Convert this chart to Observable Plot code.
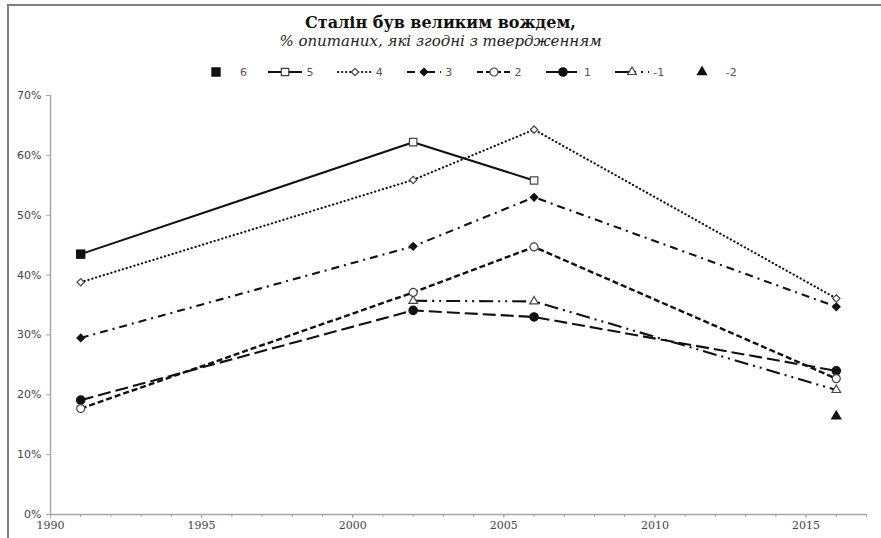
<!DOCTYPE html>
<html>
<head>
<meta charset="utf-8">
<script src="https://cdn.jsdelivr.net/npm/d3@7"></script>
<script src="https://cdn.jsdelivr.net/npm/@observablehq/plot@0.6"></script>
<style>
  html, body { margin: 0; padding: 0; background: #fff; }
  #wrap { position: relative; width: 881px; height: 538px; overflow: hidden; background: #fff; }
  #frame { position: absolute; left: 7px; top: 4px; width: 874px; height: 540px;
           border-top: 2px solid #7f7f7f; border-left: 2px solid #7f7f7f; box-sizing: border-box; }
  #title { position: absolute; left: 0; width: 881px; top: 15px; text-align: center;
           font: bold 16px "DejaVu Serif", serif; line-height: 1; color: #111; }
  #subtitle { position: absolute; left: 0; width: 881px; top: 34px; text-align: center;
           font: italic 15px "DejaVu Serif", serif; line-height: 1; color: #222; }
  #legend { position: absolute; top: 64px; left: 198px; display: flex; }
  .item { width: 69.4px; display: flex; align-items: center; height: 16px; }
  .item span { font: 11px "DejaVu Sans", sans-serif; color: #555; margin-left: 3px; }
  #chart { position: absolute; left: 0; top: 85px; }
</style>
</head>
<body>
<div id="wrap">
  <div id="frame"></div>
  <div id="title">Сталін був великим вождем,</div>
  <div id="subtitle">% опитаних, які згодні з твердженням</div>
  <div id="legend"></div>
  <div id="chart"></div>
</div>
<script>
// ---- data ----
const surveyYears = [1991, 2002, 2006, 2016];
const seriesNames = ["6", "5", "4", "3", "2", "1", "-1", "-2"];
const s6  = [43.5, null, null, null];
const s5  = [43.5, 62.2, 55.8, null];
const s4  = [38.8, 55.9, 64.3, 36.1];
const s3  = [29.5, 44.8, 53.0, 34.7];
const s2  = [17.7, 37.1, 44.7, 22.7];
const s1  = [19.1, 34.1, 33.0, 24.0];
const sm1 = [null, 35.7, 35.6, 20.8];
const sm2 = [null, null, null, 16.4];
const yTicks = [0, 10, 20, 30, 40, 50, 60, 70];
const xLabelYears = [1990, 1995, 2000, 2005, 2010, 2015];

const seriesValues = [s6, s5, s4, s3, s2, s1, sm1, sm2];

// ---- styles ----
const styles = {
  "6":  {dash: null, symbol: "square", fill: "#111", r: 4.6, line: false},
  "5":  {dash: null, symbol: "square", fill: "#fff", r: 4.2, line: true, cap: "butt"},
  "4":  {dash: "0.3,3.7", symbol: "diamond2", fill: "#fff", r: 3.3, line: true, cap: "round"},
  "3":  {dash: "8,5,2,5", symbol: "diamond2", fill: "#111", r: 3.4, line: true, cap: "butt"},
  "2":  {dash: "6,3", symbol: "circle", fill: "#fff", r: 4, line: true, cap: "butt"},
  "1":  {dash: "13,5", symbol: "circle", fill: "#111", r: 4.2, line: true, cap: "butt"},
  "-1": {dash: "14,5,2,5,2,5", symbol: "triangle", fill: "#fff", r: 3.2, line: true, cap: "butt"},
  "-2": {dash: null, symbol: "triangle", fill: "#111", r: 3.4, line: false}
};

const rows = [];
seriesNames.forEach((s, i) => {
  surveyYears.forEach((yr, j) => {
    const v = seriesValues[i][j];
    if (v != null) rows.push({series: s, year: yr, value: v});
  });
});

const lineMarks = [];
const dotMarks = [];
seriesNames.forEach(s => {
  const st = styles[s];
  const d = rows.filter(r => r.series === s);
  if (st.line) {
    lineMarks.push(Plot.line(d, {
      x: "year", y: "value", stroke: "#111", strokeWidth: s === "2" ? 2.4 : 2.1,
      strokeDasharray: st.dash, strokeLinecap: st.cap
    }));
  }
  dotMarks.push(Plot.dot(d, {
    x: "year", y: "value", symbol: () => st.symbol, r: st.r,
    fill: st.fill, stroke: st.fill === "#fff" ? "#444" : "#111", strokeWidth: 1.2
  }));
});
dotMarks.reverse();

const chart = Plot.plot({
  width: 881,
  height: 453,
  marginLeft: 50,
  marginRight: 15,
  marginTop: 10,
  marginBottom: 24,
  style: {fontFamily: "DejaVu Sans, sans-serif", fontSize: "11px", background: "transparent"},
  x: {domain: [1990, 2017]},
  y: {domain: [0, 70]},
  symbol: {type: "identity"},
  marks: [
    Plot.ruleY([0], {stroke: "#a6a6a6", strokeWidth: 1.5}),
    Plot.ruleX([1990], {stroke: "#a6a6a6", strokeWidth: 1.5}),
    Plot.axisY({ticks: yTicks, tickSize: 4, tickPadding: 5, label: null, tickFormat: d => d + "%",
                stroke: "#a6a6a6", fill: "#444", fontSize: 11}),
    Plot.axisX({ticks: d3.range(1990, 2018), tickSize: 3, label: null, tickFormat: () => "",
                stroke: "#a6a6a6"}),
    Plot.axisX({ticks: xLabelYears, tickSize: 4, tickPadding: 3, label: null,
                tickFormat: d => String(d), stroke: "#a6a6a6", fill: "#444",
                fontFamily: "DejaVu Serif, serif", fontSize: 11}),
    ...lineMarks,
    ...dotMarks
  ]
});
document.getElementById("chart").appendChild(chart);

// ---- legend ----
const legend = d3.select("#legend");
const symMap = {square: d3.symbolSquare, diamond2: d3.symbolDiamond2, circle: d3.symbolCircle, triangle: d3.symbolTriangle};
seriesNames.forEach(s => {
  const st = styles[s];
  const item = legend.append("div").attr("class", "item");
  const svg = item.append("svg").attr("width", 36).attr("height", 16);
  if (st.line) {
    svg.append("line").attr("x1", 1).attr("x2", 35).attr("y1", 8).attr("y2", 8)
      .attr("stroke", "#111").attr("stroke-width", 2.1)
      .attr("stroke-dasharray", st.dash).attr("stroke-linecap", st.cap);
  }
  svg.append("path").attr("transform", "translate(18,8)")
    .attr("d", d3.symbol(symMap[st.symbol], Math.PI * st.r * st.r)())
    .attr("fill", st.fill).attr("stroke", st.fill === "#fff" ? "#444" : "#111").attr("stroke-width", 1.2);
  item.append("span").text(s).style("margin-left", st.line ? "3px" : "6px");
});
</script>
</body>
</html>
